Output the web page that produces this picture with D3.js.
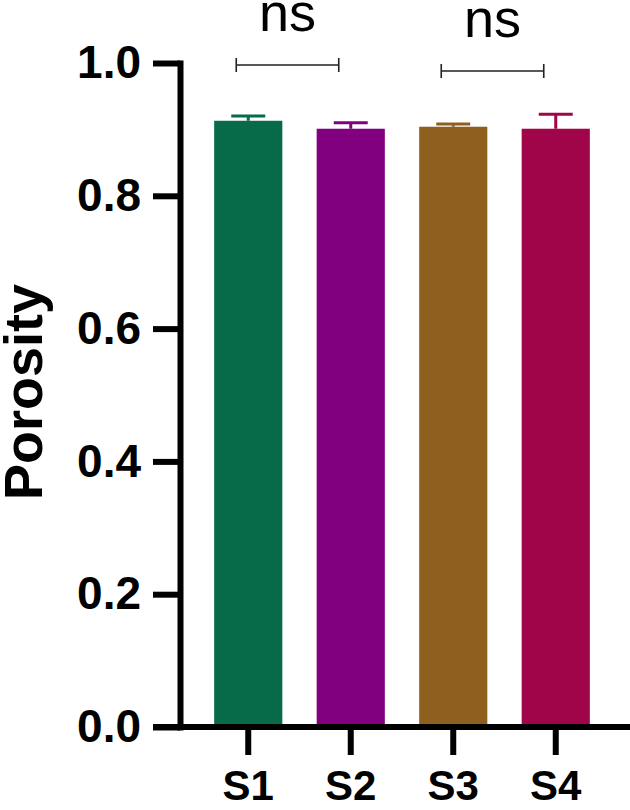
<!DOCTYPE html>
<html>
<head>
<meta charset="utf-8">
<script src="https://cdn.jsdelivr.net/npm/d3@7"></script>
<style>
  body { margin: 0; background: #fff; }
  svg { display: block; font-family: "Liberation Sans", Arial, sans-serif; }
</style>
</head>
<body>
<svg id="canvas" width="630" height="810"></svg>
<script>
// datos
const muestras = ["S1", "S2", "S3", "S4"];
const porosidad = [0.913, 0.901, 0.904, 0.901];
const desviacion = [0.007, 0.009, 0.004, 0.022];
const colores = ["#076a48", "#800080", "#8f5f20", "#a0054a"];
const ticksY = [0, 0.2, 0.4, 0.6, 0.8, 1.0];
const comparaciones = [
    { a: "S1", b: "S2", nivel: 0.997, etiqueta: "ns" },
    { a: "S3", b: "S4", nivel: 0.988, etiqueta: "ns" }
];

const svg = d3.select("#canvas");
const ancho = 630;
const margen = { left: 180, top: 63, bottom: 727 };

const y = d3.scaleLinear().domain([0, 1]).range([margen.bottom, margen.top]);
const x = d3.scaleBand().domain(muestras).range([197, 607])
    .paddingInner(0.335).paddingOuter(0.1675);

// Barras
svg.selectAll(".barra")
    .data(muestras)
    .enter()
    .append("rect")
    .attr("class", "barra")
    .attr("x", d => x(d))
    .attr("y", (d, i) => y(porosidad[i]))
    .attr("width", x.bandwidth())
    .attr("height", (d, i) => y(0) - y(porosidad[i]))
    .attr("fill", (d, i) => colores[i]);

// Barras de error (solo hacia arriba)
const capa = 34;
muestras.forEach((m, i) => {
    const cx = x(m) + x.bandwidth() / 2;
    const arriba = y(porosidad[i] + desviacion[i]);
    svg.append("line")
        .attr("x1", cx).attr("x2", cx)
        .attr("y1", y(porosidad[i])).attr("y2", arriba)
        .attr("stroke", colores[i]).attr("stroke-width", 3);
    svg.append("line")
        .attr("x1", cx - capa / 2).attr("x2", cx + capa / 2)
        .attr("y1", arriba).attr("y2", arriba)
        .attr("stroke", colores[i]).attr("stroke-width", 3);
});

// Eje Y
const ejeY = svg.append("g")
    .attr("transform", `translate(${margen.left},0)`)
    .call(d3.axisLeft(y).tickValues(ticksY).tickFormat(d3.format(".1f"))
        .tickSize(27).tickSizeOuter(0).tickPadding(12));
ejeY.select(".domain").attr("stroke-width", 6).attr("stroke-linecap", "square");
ejeY.selectAll(".tick line").attr("stroke-width", 6);
ejeY.selectAll(".tick text")
    .attr("font-size", 46).attr("font-weight", "bold")
    .attr("font-family", "Liberation Sans, Arial, sans-serif").attr("fill", "#000");

// Eje X
const ejeX = svg.append("g")
    .attr("transform", `translate(0,${margen.bottom})`)
    .call(d3.axisBottom(x).tickSize(28).tickSizeOuter(0).tickPadding(15));
ejeX.select(".domain").remove();
ejeX.append("line")
    .attr("x1", margen.left - 27).attr("x2", ancho)
    .attr("stroke", "#000").attr("stroke-width", 6);
ejeX.selectAll(".tick line").attr("stroke-width", 6);
ejeX.selectAll(".tick text")
    .attr("font-size", 42).attr("font-weight", "bold")
    .attr("font-family", "Liberation Sans, Arial, sans-serif").attr("fill", "#000");

// Titulo del eje Y
svg.append("text")
    .attr("transform", "translate(42,392) rotate(-90)")
    .attr("text-anchor", "middle")
    .attr("font-size", 54)
    .attr("font-weight", "bold")
    .text("Porosity");

// Corchetes de significancia
const desplazamiento = -12;
comparaciones.forEach(c => {
    const x1 = x(c.a) + x.bandwidth() / 2 + desplazamiento;
    const x2 = x(c.b) + x.bandwidth() / 2 + desplazamiento;
    const yy = y(c.nivel);
    svg.append("path")
        .attr("d", `M ${x1} ${yy - 7} V ${yy + 7} M ${x1} ${yy} H ${x2} M ${x2} ${yy - 7} V ${yy + 7}`)
        .attr("fill", "none")
        .attr("stroke", "#222")
        .attr("stroke-width", 1.6);
    svg.append("text")
        .attr("x", (x1 + x2) / 2)
        .attr("y", yy - 34)
        .attr("text-anchor", "middle")
        .attr("font-size", 54)
        .text(c.etiqueta);
});
</script>
</body>
</html>
